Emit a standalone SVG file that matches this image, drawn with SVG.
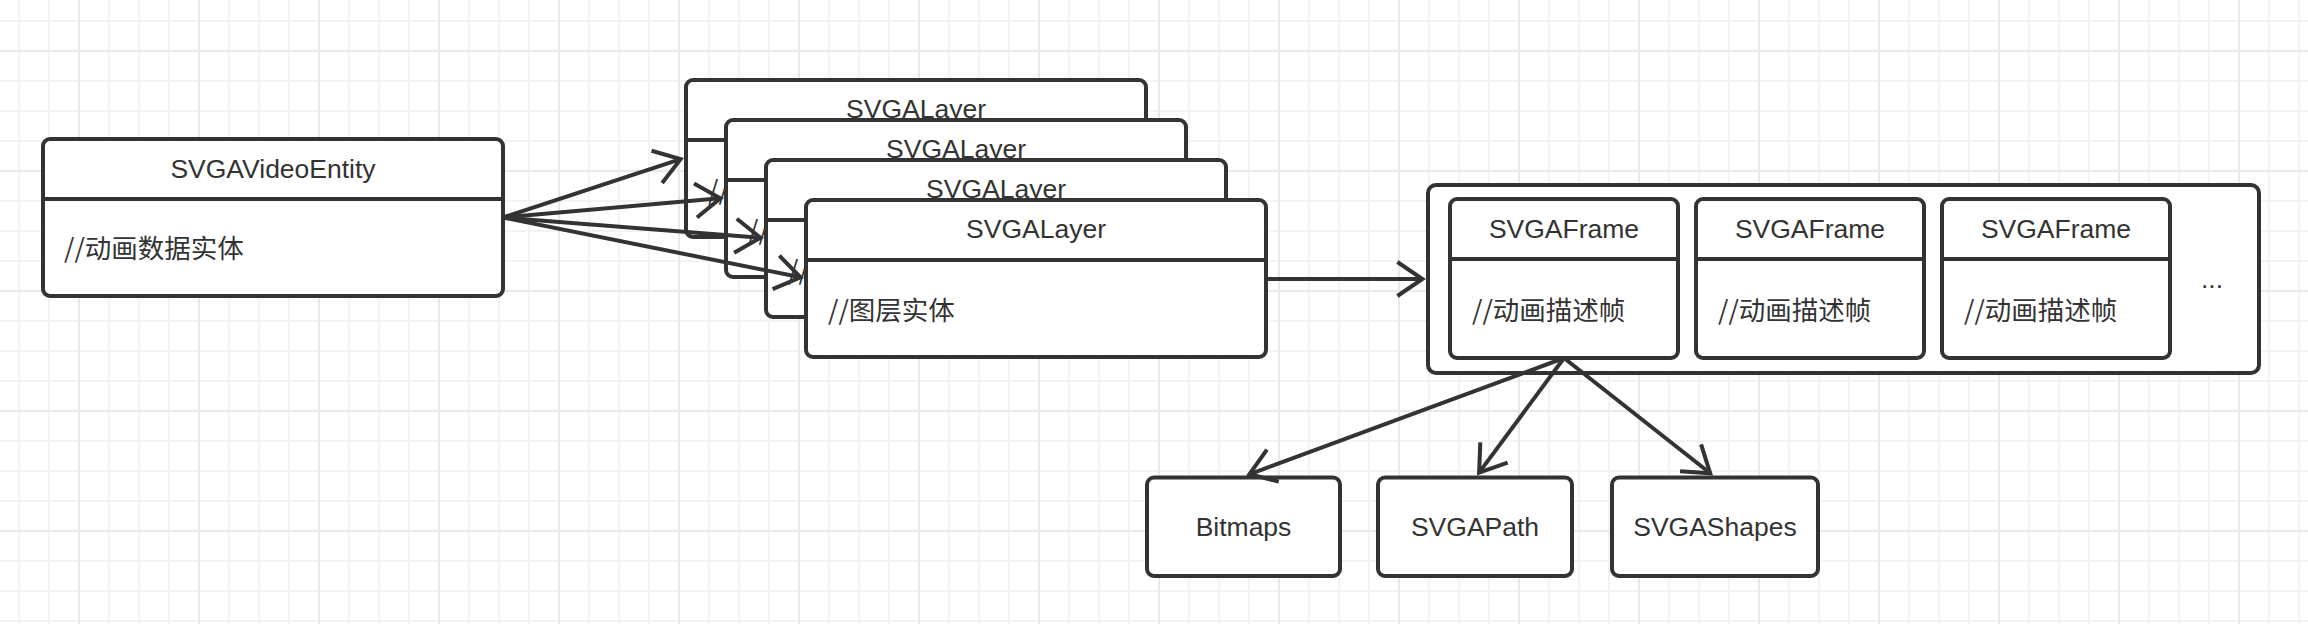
<svg xmlns="http://www.w3.org/2000/svg" width="2308" height="624" viewBox="0 0 2308 624">
<style>
.box{fill:#fff;stroke:#333;stroke-width:4}
.dv{stroke:#333;stroke-width:4}
.t{font-family:"Liberation Sans","Noto Sans CJK SC",sans-serif;font-size:26.5px;fill:#333;text-anchor:middle}
.b{font-family:"Noto Sans CJK SC","Liberation Sans",sans-serif;font-size:26.5px;fill:#333}
.edge{fill:none;stroke:#333;stroke-width:4;marker-end:url(#arr)}
</style>
<defs>
<pattern id="grid" width="120" height="120" patternUnits="userSpaceOnUse" x="-42" y="-70">
<rect x="0" y="0" width="120" height="120" fill="#fff"/>
<rect x="30" y="0" width="2" height="120" fill="#f3f3f3"/>
<rect x="60" y="0" width="2" height="120" fill="#f3f3f3"/>
<rect x="90" y="0" width="2" height="120" fill="#f3f3f3"/>
<rect x="0" y="30" width="120" height="2" fill="#f3f3f3"/>
<rect x="0" y="60" width="120" height="2" fill="#f3f3f3"/>
<rect x="0" y="90" width="120" height="2" fill="#f3f3f3"/>
<rect x="0" y="0" width="2" height="120" fill="#e9e9e9"/>
<rect x="0" y="0" width="120" height="2" fill="#e9e9e9"/>
</pattern>
<marker id="arr" markerUnits="userSpaceOnUse" orient="auto" overflow="visible" markerWidth="1" markerHeight="1" refX="0" refY="0">
<path d="M-25,-17 L0,0 L-25,17" fill="none" stroke="#333" stroke-width="4"/>
</marker>
</defs>
<rect x="0" y="0" width="2308" height="624" fill="url(#grid)"/>

<g id="videoEntity">
<rect class="box" x="43" y="139" width="460" height="157" rx="7"/>
<line class="dv" x1="43" y1="199" x2="503" y2="199"/>
<text class="t" x="273" y="178">SVGAVideoEntity</text>
<text class="b" x="64" y="258">//动画数据实体</text>
</g>

<g id="layer1">
<rect class="box" x="686" y="80" width="460" height="157" rx="7"/>
<line class="dv" x1="686" y1="140" x2="1146" y2="140"/>
<text class="t" x="916" y="118">SVGALayer</text>
<text class="b" x="708" y="199.5">//图层实体</text>
</g>
<g id="layer2">
<rect class="box" x="726" y="120" width="460" height="157" rx="7"/>
<line class="dv" x1="726" y1="180" x2="1186" y2="180"/>
<text class="t" x="956" y="158">SVGALayer</text>
<text class="b" x="748" y="239.5">//图层实体</text>
</g>
<g id="layer3">
<rect class="box" x="766" y="160" width="460" height="157" rx="7"/>
<line class="dv" x1="766" y1="220" x2="1226" y2="220"/>
<text class="t" x="996" y="198">SVGALayer</text>
<text class="b" x="788" y="279.5">//图层实体</text>
</g>
<g id="layer4">
<rect class="box" x="806" y="200" width="460" height="157" rx="7"/>
<line class="dv" x1="806" y1="260" x2="1266" y2="260"/>
<text class="t" x="1036" y="238">SVGALayer</text>
<text class="b" x="828" y="319.5">//图层实体</text>
</g>

<g id="frames">
<rect class="box" x="1428" y="185" width="831" height="188" rx="8"/>
<text class="t" x="2212" y="288">...</text>
</g>
<g id="frame1">
<rect class="box" x="1450" y="199" width="228" height="159" rx="7"/>
<line class="dv" x1="1450" y1="259" x2="1678" y2="259"/>
<text class="t" x="1564" y="238">SVGAFrame</text>
<text class="b" x="1472" y="320">//动画描述帧</text>
</g>
<g id="frame2">
<rect class="box" x="1696" y="199" width="228" height="159" rx="7"/>
<line class="dv" x1="1696" y1="259" x2="1924" y2="259"/>
<text class="t" x="1810" y="238">SVGAFrame</text>
<text class="b" x="1718" y="320">//动画描述帧</text>
</g>
<g id="frame3">
<rect class="box" x="1942" y="199" width="228" height="159" rx="7"/>
<line class="dv" x1="1942" y1="259" x2="2170" y2="259"/>
<text class="t" x="2056" y="238">SVGAFrame</text>
<text class="b" x="1964" y="320">//动画描述帧</text>
</g>

<g id="bitmaps">
<rect class="box" x="1147" y="477.5" width="193" height="98.5" rx="7"/>
<text class="t" x="1243.5" y="536">Bitmaps</text>
</g>
<g id="svgaPath">
<rect class="box" x="1378" y="477.5" width="194" height="98.5" rx="7"/>
<text class="t" x="1475" y="536">SVGAPath</text>
</g>
<g id="svgaShapes">
<rect class="box" x="1612" y="477.5" width="206" height="98.5" rx="7"/>
<text class="t" x="1715" y="536">SVGAShapes</text>
</g>

<g id="connectors">
<path class="edge" d="M503,217.5 L680.6,159.1"/>
<path class="edge" d="M503,217.5 L720.4,198.3"/>
<path class="edge" d="M503,217.5 L760.4,237.7"/>
<path class="edge" d="M503,217.5 L800.5,277.3"/>
<path class="edge" d="M1266,279 L1422.4,279"/>
<path class="edge" d="M1564,358 L1249.4,474.3"/>
<path class="edge" d="M1564,358 L1479.1,472.6"/>
<path class="edge" d="M1564,358 L1710.2,473.3"/>
</g>
</svg>
